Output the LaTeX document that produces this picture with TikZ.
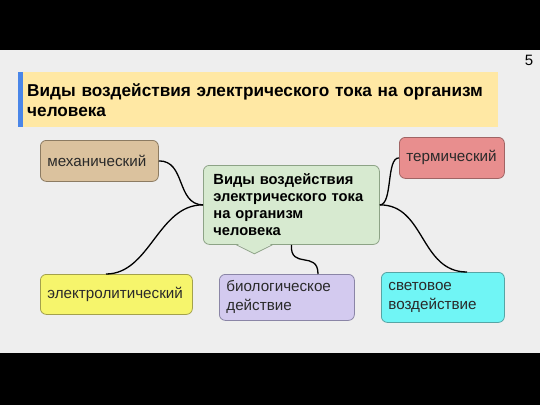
\documentclass[tikz,border=0pt]{standalone}
\usepackage{fontspec}
\setmainfont{Liberation Sans}
\usetikzlibrary{calc}
\definecolor{bggray}{HTML}{EEEEEE}
\definecolor{titlefill}{HTML}{FFE8A4}
\definecolor{titlebar}{HTML}{4A86E8}
\definecolor{mechfill}{HTML}{DBC29E}
\definecolor{mechline}{HTML}{8C7B62}
\definecolor{elfill}{HTML}{F6F56C}
\definecolor{elline}{HTML}{A3A14C}
\definecolor{cenfill}{HTML}{D7EAD0}
\definecolor{cenline}{HTML}{8DA386}
\definecolor{biofill}{HTML}{D3CAEF}
\definecolor{bioline}{HTML}{8A85A6}
\definecolor{thfill}{HTML}{E88E8E}
\definecolor{thline}{HTML}{A06464}
\definecolor{ltfill}{HTML}{70F5F5}
\definecolor{ltline}{HTML}{56A5A5}
\definecolor{boxtext}{HTML}{2A2A2A}
\begin{document}
\begin{tikzpicture}[x=1pt,y=-1pt,
  box/.style={rounded corners=6pt, line width=0.8pt, inner ysep=0pt, inner xsep=7pt,
    anchor=north west, align=left, text=boxtext, font=\fontsize{15.2}{19}\selectfont},
  conn/.style={line width=1.3pt, black}]
\useasboundingbox (0,0) rectangle (540,405);
\fill[black] (0,0) rectangle (540,405);
\fill[bggray] (0,50) rectangle (540,353);
% title
\node (title) [fill=titlefill, minimum width=480pt, minimum height=55pt, text width=462pt,
  inner xsep=9pt, inner ysep=0pt, anchor=north west, align=left,
  font=\bfseries\fontsize{17.2}{20}\selectfont] at (18,72)
  {Виды воздействия электрического тока на организм\\человека};
\fill[titlebar] (title.north west) rectangle ++(5,55);
\node (pnum) [anchor=center, font=\fontsize{15}{15}\selectfont] at (529,60) {5};
% boxes
\node (mech) [box, draw=mechline, fill=mechfill, text width=104pt, minimum height=41pt] at (40,140) {механический};
\node (el) [box, draw=elline, fill=elfill, text width=138pt, minimum height=40pt] at (40,274) {электролитический};
\node (th) [box, draw=thline, fill=thfill, text width=91pt, minimum height=41pt] at (399,137) {термический};
\node (lt) [box, draw=ltline, fill=ltfill, text width=109pt, minimum height=50pt] at (381,272) {световое\\воздействие};
\node (bio) [box, draw=bioline, fill=biofill, text width=121pt, minimum height=46pt] at (219,274) {биологическое\\действие};
\node (cen) [box, draw=cenline, fill=cenfill, text width=156pt, inner xsep=10pt, minimum height=79pt,
  text=black, font=\bfseries\fontsize{14.7}{17}\selectfont] at (203,165)
  {Виды воздействия\\электрического тока\\на организм\\человека};
% callout pointer
\fill[cenfill] ($(cen.south)+(-55,-1.5)$) -- ($(cen.south)+(-37,9)$) -- ($(cen.south)+(-19,-1.5)$) -- cycle;
\draw[cenline, line width=0.8pt] ($(cen.south)+(-55,0)$) -- ($(cen.south)+(-37,9)$) -- ($(cen.south)+(-19,0)$);
% connectors
\coordinate (elt) at ($(el.north west)+(66,0)$);
\coordinate (ltt) at ($(lt.north west)+(86,0)$);
\coordinate (biot) at ($(bio.north west)+(99,0)$);
\draw[conn] (mech.east) .. controls (186,160.5) and (176,204.5) .. (cen.west);
\draw[conn] (elt) .. controls (150,274) and (158,204.5) .. (cen.west);
\draw[conn] (cen.east) .. controls (393,204.5) and (386,157.5) .. (th.west);
\draw[conn] (cen.east) .. controls (425,204.5) and (420,272) .. (ltt);
\draw[conn] (cen.south) .. controls (290,270) and (318,250) .. (biot);
\end{tikzpicture}
\end{document}
